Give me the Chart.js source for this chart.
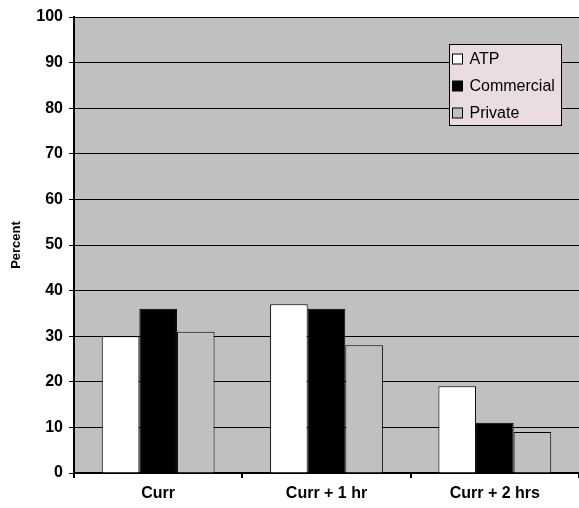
<!DOCTYPE html>
<html>
<head>
<meta charset="utf-8">
<script src="https://cdn.jsdelivr.net/npm/chart.js@4/dist/chart.umd.min.js"></script>
<style>
  html, body { margin: 0; padding: 0; background: #ffffff; }
  #wrap { width: 579px; height: 508px; position: relative; }
</style>
</head>
<body>
<div id="wrap"><canvas id="c" width="579" height="508"></canvas></div>
<script>
const categories = ['Curr', 'Curr + 1 hr', 'Curr + 2 hrs'];
const seriesNames = ['ATP', 'Commercial', 'Private'];
const atp = [30, 37, 19];
const commercial = [36, 36, 11];
const privatePilots = [31, 28, 9];
const yTicks = [0, 10, 20, 30, 40, 50, 60, 70, 80, 90, 100];

const fills = ['#ffffff', '#000000', '#c0c0c0'];
const FONT = 'Arial, "Liberation Sans", sans-serif';

// Gray plot area behind the bars
const plotBackground = {
  id: 'plotBackground',
  beforeDraw(chart) {
    const { ctx, chartArea: a } = chart;
    ctx.save();
    ctx.fillStyle = '#c0c0c0';
    ctx.fillRect(a.left, a.top, a.right - a.left, a.bottom - a.top);
    ctx.restore();
  }
};

// Boxed legend inside the plot area, top right
const boxLegend = {
  id: 'boxLegend',
  afterDraw(chart) {
    const { ctx } = chart;
    const x = 449.5, y = 44.5, w = 112, h = 81;
    ctx.save();
    ctx.fillStyle = '#eadce2';
    ctx.fillRect(x, y, w, h);
    ctx.strokeStyle = '#000000';
    ctx.lineWidth = 1;
    ctx.strokeRect(x, y, w, h);
    ctx.font = '16px ' + FONT;
    ctx.textBaseline = 'middle';
    chart.data.datasets.forEach((ds, i) => {
      const cy = Math.round(y + 14 + i * 27);
      ctx.fillStyle = ds.backgroundColor;
      ctx.fillRect(x + 3, cy - 5, 10, 10);
      ctx.strokeStyle = '#000000';
      ctx.strokeRect(x + 3, cy - 5, 10, 10);
      ctx.fillStyle = '#000000';
      ctx.fillText(ds.label, x + 20, cy + 1);
    });
    ctx.restore();
  }
};

const seriesValues = [atp, commercial, privatePilots];

new Chart(document.getElementById('c'), {
  type: 'bar',
  data: {
    labels: categories,
    datasets: seriesNames.map((name, i) => ({
      label: name,
      data: seriesValues[i],
      backgroundColor: fills[i],
      borderColor: '#000000',
      borderWidth: 1,
      categoryPercentage: 0.67,
      barPercentage: 1.0
    }))
  },
  options: {
    responsive: false,
    animation: false,
    devicePixelRatio: 1,
    layout: { padding: { top: 17, right: 0, left: 0, bottom: 0 } },
    plugins: {
      legend: { display: false },
      tooltip: { enabled: false }
    },
    scales: {
      x: {
        offset: true,
        grid: {
          display: true,
          drawOnChartArea: false,
          drawTicks: true,
          tickLength: 5,
          color: '#000000',
          lineWidth: 2,
          offset: true
        },
        border: { display: true, color: '#000000', width: 2 },
        ticks: {
          color: '#000000',
          padding: 6,
          font: { family: FONT, size: 16, weight: 'bold' }
        },
        afterFit(scale) { scale.height = 35; }
      },
      y: {
        min: 0,
        max: 100,
        afterBuildTicks(scale) { scale.ticks = yTicks.map(v => ({ value: v })); },
        grid: {
          display: true,
          drawTicks: true,
          tickLength: 5,
          color: '#000000',
          lineWidth: 1
        },
        border: { display: true, color: '#000000', width: 2 },
        ticks: {
          color: '#000000',
          padding: 6,
          font: { family: FONT, size: 16, weight: 'bold' }
        },
        title: {
          display: true,
          text: 'Percent',
          color: '#000000',
          padding: { top: 9, bottom: 0 },
          font: { family: FONT, size: 13, weight: 'bold' }
        },
        afterFit(scale) { scale.width = 74; }
      }
    }
  },
  plugins: [plotBackground, boxLegend]
});
</script>
</body>
</html>
